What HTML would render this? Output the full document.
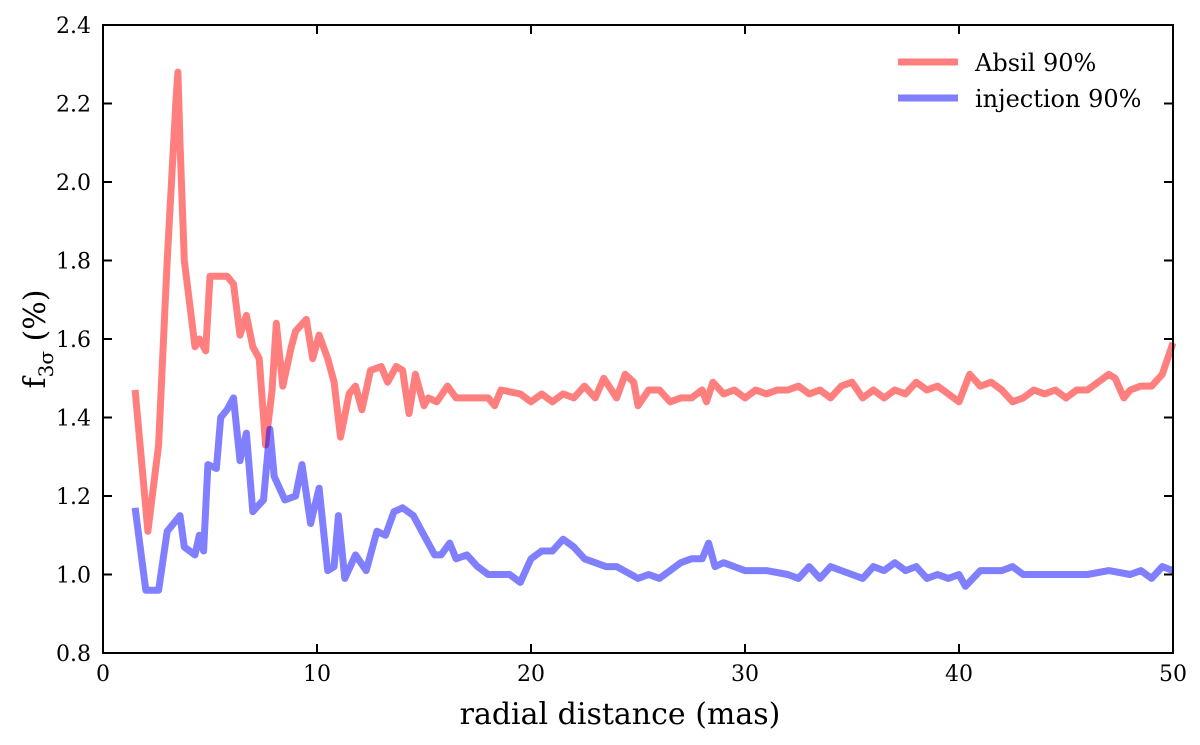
<!DOCTYPE html>
<html><head><meta charset="utf-8"><style>
body{margin:0;background:#fff;}
svg text{font-family:"DejaVu Serif","Liberation Serif",serif;fill:#000;}
</style></head><body>
<svg id="chart" width="1200" height="740" viewBox="0 0 1200 740" xmlns="http://www.w3.org/2000/svg">
<g id="plot"></g>
<rect x="103" y="25" width="1070" height="628" fill="none" stroke="#000" stroke-width="2"/>
<g id="axes"></g>
<text x="620" y="724" font-size="30" text-anchor="middle">radial distance (mas)</text>
<text transform="translate(45,339) rotate(-90)" font-size="30" text-anchor="middle">f<tspan font-size="20" dy="8">3σ</tspan><tspan dy="-8"> (%)</tspan></text>
<g>
<line x1="898" y1="62" x2="958" y2="62" stroke="#ff0000" stroke-opacity="0.5" stroke-width="7"/>
<text x="975" y="71" font-size="24">Absil 90%</text>
<line x1="898" y1="98" x2="958" y2="98" stroke="#0000ff" stroke-opacity="0.5" stroke-width="7"/>
<text x="975" y="107" font-size="24">injection 90%</text>
</g>
</svg>
<script>
const absilX=[1.5,2.1,2.6,3.0,3.4,3.5,3.6,3.8,4.3,4.5,4.8,5.0,5.8,6.1,6.4,6.7,7.0,7.3,7.6,7.9,8.1,8.4,8.8,9.0,9.5,9.8,10.1,10.5,10.8,11.1,11.5,11.8,12.1,12.5,13.0,13.3,13.7,14.0,14.3,14.6,15.0,15.2,15.6,16.1,16.5,17,18,18.3,18.6,19.5,20,20.5,21,21.5,22,22.5,23,23.4,24,24.4,24.8,25,25.5,26,26.5,27,27.5,28,28.2,28.5,29,29.5,30,30.5,31,31.5,32,32.5,33,33.5,34,34.5,35,35.5,36,36.5,37,37.5,38,38.5,39,39.5,40,40.5,41,41.5,42,42.5,43,43.5,44,44.5,45,45.5,46,46.5,47,47.3,47.7,48,48.5,49,49.5,50];
const absilY=[1.47,1.11,1.33,1.8,2.2,2.28,2.1,1.8,1.58,1.6,1.57,1.76,1.76,1.74,1.61,1.66,1.58,1.55,1.33,1.47,1.64,1.48,1.58,1.62,1.65,1.55,1.61,1.55,1.49,1.35,1.46,1.48,1.42,1.52,1.53,1.49,1.53,1.52,1.41,1.51,1.43,1.45,1.44,1.48,1.45,1.45,1.45,1.43,1.47,1.46,1.44,1.46,1.44,1.46,1.45,1.48,1.45,1.5,1.45,1.51,1.49,1.43,1.47,1.47,1.44,1.45,1.45,1.47,1.44,1.49,1.46,1.47,1.45,1.47,1.46,1.47,1.47,1.48,1.46,1.47,1.45,1.48,1.49,1.45,1.47,1.45,1.47,1.46,1.49,1.47,1.48,1.46,1.44,1.51,1.48,1.49,1.47,1.44,1.45,1.47,1.46,1.47,1.45,1.47,1.47,1.49,1.51,1.5,1.45,1.47,1.48,1.48,1.51,1.59];
const injX=[1.5,2.0,2.6,3.0,3.6,3.8,4.3,4.5,4.7,4.9,5.3,5.5,5.8,6.1,6.4,6.7,7.0,7.5,7.8,8.0,8.5,9.0,9.3,9.7,10.1,10.5,10.8,11.0,11.3,11.8,12.3,12.8,13.2,13.6,14.0,14.5,15.0,15.5,15.8,16.2,16.5,17,17.5,18,18.5,19,19.5,20,20.5,21,21.5,22,22.5,23,23.5,24,25,25.5,26,27,27.5,28,28.3,28.6,29,30,31,32,32.5,33,33.5,34,34.5,35,35.5,36,36.5,37,37.5,38,38.5,39,39.5,40,40.3,41,42,42.5,43,44,45,46,47,48,48.5,49,49.5,50];
const injY=[1.17,0.96,0.96,1.11,1.15,1.07,1.05,1.1,1.06,1.28,1.27,1.4,1.42,1.45,1.29,1.36,1.16,1.19,1.37,1.25,1.19,1.2,1.28,1.13,1.22,1.01,1.02,1.15,0.99,1.05,1.01,1.11,1.1,1.16,1.17,1.15,1.1,1.05,1.05,1.08,1.04,1.05,1.02,1.0,1.0,1.0,0.98,1.04,1.06,1.06,1.09,1.07,1.04,1.03,1.02,1.02,0.99,1.0,0.99,1.03,1.04,1.04,1.08,1.02,1.03,1.01,1.01,1.0,0.99,1.02,0.99,1.02,1.01,1.0,0.99,1.02,1.01,1.03,1.01,1.02,0.99,1.0,0.99,1.0,0.97,1.01,1.01,1.02,1.0,1.0,1.0,1.0,1.01,1.0,1.01,0.99,1.02,1.01];
const xTicks=[0,10,20,30,40,50];
const yTicks=[0.8,1.0,1.2,1.4,1.6,1.8,2.0,2.2,2.4];
const xTickLabels=["0","10","20","30","40","50"];
const yTickLabels=["0.8","1.0","1.2","1.4","1.6","1.8","2.0","2.2","2.4"];

const X0=103,X1=1173,Y0=653,Y1=25;
function sx(v){return X0+(v-0)/(50-0)*(X1-X0);}
function sy(v){return Y0-(v-0.8)/(2.4-0.8)*(Y0-Y1);}
const NS="http://www.w3.org/2000/svg";
const plot=document.getElementById('plot'), axes=document.getElementById('axes');
function mk(t,a){const e=document.createElementNS(NS,t);for(const k in a)e.setAttribute(k,a[k]);return e;}
function line(xs,ys,color,name){
  const d=xs.map((x,i)=>(i?'L':'M')+sx(x).toFixed(1)+','+sy(ys[i]).toFixed(1)).join(' ');
  const p=mk('path',{d:d,fill:'none',stroke:color,'stroke-opacity':0.5,'stroke-width':7,'stroke-linejoin':'round'});
  
  
  plot.appendChild(p);
}
line(absilX,absilY,'#ff0000','absil-90-line');
line(injX,injY,'#0000ff','injection-90-line');
xTicks.forEach((v,i)=>{
  const x=sx(v);
  axes.appendChild(mk('line',{x1:x,y1:Y0,x2:x,y2:Y0-9,stroke:'#000','stroke-width':2}));
  axes.appendChild(mk('line',{x1:x,y1:Y1,x2:x,y2:Y1+9,stroke:'#000','stroke-width':2}));
  const t=mk('text',{x:x,y:Y0+28,'font-size':22,'text-anchor':'middle'});
  t.textContent=xTickLabels[i];
  
  
  axes.appendChild(t);
});
yTicks.forEach((v,i)=>{
  const y=sy(v);
  axes.appendChild(mk('line',{x1:X0,y1:y,x2:X0+9,y2:y,stroke:'#000','stroke-width':2}));
  axes.appendChild(mk('line',{x1:X1,y1:y,x2:X1-9,y2:y,stroke:'#000','stroke-width':2}));
  const t=mk('text',{x:X0-12,y:y+8,'font-size':22,'text-anchor':'end'});
  t.textContent=yTickLabels[i];
  
  
  axes.appendChild(t);
});
</script>
</body></html>
